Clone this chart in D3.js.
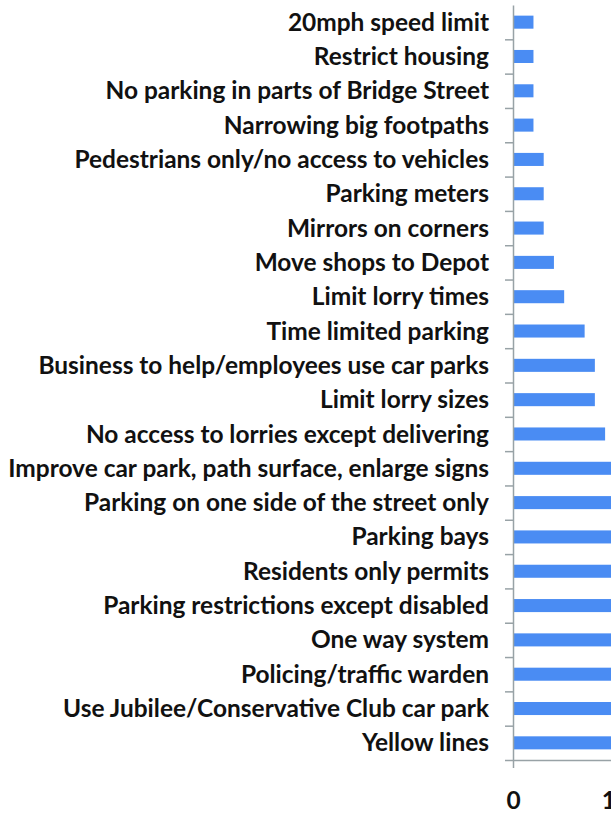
<!DOCTYPE html>
<html>
<head>
<meta charset="utf-8">
<script src="https://cdn.jsdelivr.net/npm/d3@7"></script>
<style>
  html, body { margin: 0; padding: 0; background: #fff; overflow: hidden; }
  text { font-family: Lato, "Noto Sans", sans-serif; font-weight: bold; fill: #111; }
</style>
</head>
<body>
<div id="chart"></div>
<script>
// categories top to bottom, as in the picture
const categories = [
  "20mph speed limit",
  "Restrict housing",
  "No parking in parts of Bridge Street",
  "Narrowing big footpaths",
  "Pedestrians only/no access to vehicles",
  "Parking meters",
  "Mirrors on corners",
  "Move shops to Depot",
  "Limit lorry times",
  "Time limited parking",
  "Business to help/employees use car parks",
  "Limit lorry sizes",
  "No access to lorries except delivering",
  "Improve car park, path surface, enlarge signs",
  "Parking on one side of the street only",
  "Parking bays",
  "Residents only permits",
  "Parking restrictions except disabled",
  "One way system",
  "Policing/traffic warden",
  "Use Jubilee/Conservative Club car park",
  "Yellow lines"
];
// bars past the right edge of the crop are estimates
const counts = [2, 2, 2, 2, 3, 3, 3, 4, 5, 7, 8, 8, 9, 11, 12, 13, 14, 15, 16, 18, 20, 25];
const xTicks = [0, 10];

const width = 611, height = 814;
const m = { top: 5, left: 513, bottom: 760 };

const svg = d3.select('#chart').append('svg')
  .attr('width', width)
  .attr('height', height);

const x = d3.scaleLinear().domain([0, 30]).range([m.left, m.left + 307]);
const y = d3.scaleBand().domain(categories).range([m.top, m.bottom]).paddingInner(0.62).paddingOuter(0.31);
const yEdge = d3.scaleLinear().domain([0, categories.length]).range([m.top, m.bottom]);

// bars
svg.append('g').selectAll('rect')
  .data(categories)
  .enter().append('rect')
    .attr('x', x(0))
    .attr('y', d => y(d))
    .attr('height', y.bandwidth())
    .attr('width', (d, i) => x(counts[i]) - x(0))
    .attr('fill', '#4a8cf3');

// category axis, ticks between rows
const yAxis = svg.append('g')
  .attr('transform', `translate(${m.left},0)`)
  .call(d3.axisLeft(yEdge).tickValues(d3.range(1, categories.length + 1)).tickFormat('').tickSize(8).tickSizeOuter(0));
yAxis.selectAll('path, line').attr('stroke', '#98a2a6').attr('stroke-width', 1.5);

// labels
svg.append('g').selectAll('text')
  .data(categories)
  .enter().append('text')
    .attr('x', 489)
    .attr('y', d => y(d) + y.bandwidth() / 2)
    .attr('dy', '0.35em')
    .attr('text-anchor', 'end')
    .text(d => d);

// fit label size so the longest label spans like the original
const labels = svg.selectAll('g text');
labels.style('font-size', '20px');
const longest = d3.max(labels.nodes(), n => n.getComputedTextLength());
const fs = 20 * 481 / longest;
labels.style('font-size', fs + 'px');

// value axis
const xAxis = svg.append('g')
  .attr('transform', `translate(0,${m.bottom})`)
  .call(d3.axisBottom(x).tickValues(xTicks).tickSize(8).tickSizeOuter(0).tickPadding(24));
xAxis.selectAll('path, line').attr('stroke', '#98a2a6').attr('stroke-width', 1.5);
xAxis.selectAll('text')
  .attr('fill', '#111')
  .style('font-size', fs + 'px')
  .style('font-family', 'Lato, "Noto Sans", sans-serif')
  .style('font-weight', 'bold');
</script>
</body>
</html>
